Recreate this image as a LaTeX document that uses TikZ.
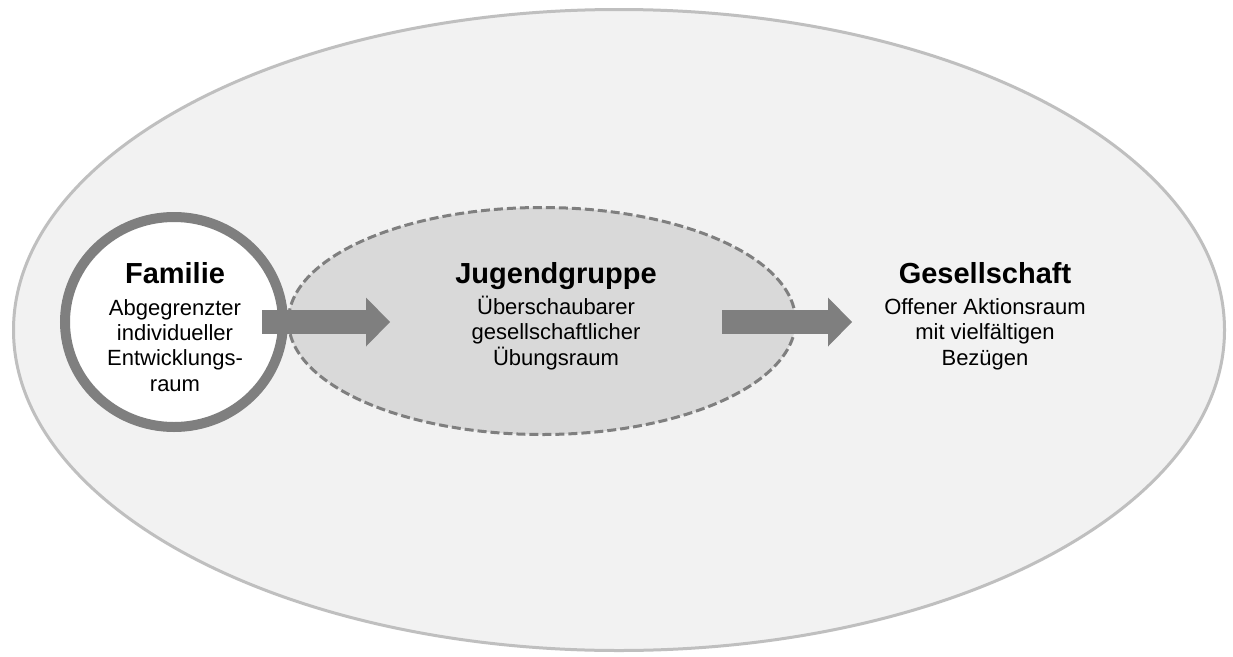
\documentclass[tikz,border=0pt]{standalone}
\usepackage{fontspec}
\setmainfont{Liberation Sans}
\usetikzlibrary{arrows.meta,shapes.geometric}

\definecolor{randgrau}{HTML}{BFBFBF}
\definecolor{flaeche}{HTML}{F2F2F2}
\definecolor{jugendgrau}{HTML}{D9D9D9}
\definecolor{pfeilgrau}{HTML}{7F7F7F}

\begin{document}
\begin{tikzpicture}[x=1pt,y=-1pt,
    raum/.style={ellipse, inner sep=0pt, outer sep=0pt},
    titel/.style={font=\fontsize{29}{33}\selectfont\bfseries, inner sep=0pt, anchor=base},
    beschr/.style={font=\fontsize{22}{25.3}\selectfont, align=center, inner sep=0pt, anchor=base},
    blockpfeil/.style={pfeilgrau, line width=24pt,
        -{Triangle[length=24pt,width=49pt,line width=0pt]}}]

    \useasboundingbox (0,0) rectangle (1233,656);
    \fill[white] (0,0) rectangle (1233,656);

    % Raeume
    \node[raum, draw=randgrau, fill=flaeche, line width=3pt,
          minimum width=1211pt, minimum height=641pt] (gesraum) at (619,330) {};
    \node[raum, draw=pfeilgrau, fill=jugendgrau, line width=3pt, dash pattern=on 9pt off 4pt,
          minimum width=507pt, minimum height=227pt] (jugraum) at (542,321) {};
    \node[raum, draw=pfeilgrau, fill=white, line width=10pt,
          minimum width=218pt, minimum height=210pt] (famraum) at (174,322) {};

    % Pfeile
    \coordinate (p1a) at (262,322);
    \coordinate (p1b) at (390,322);
    \coordinate (p2a) at (722,322);
    \coordinate (p2b) at (852,322);
    \draw[blockpfeil] (p1a) -- (p1b);
    \draw[blockpfeil] (p2a) -- (p2b);

    % Beschriftung (base = letzte Zeile)
    \node[titel] (famtitel) at (175,283) {Familie};
    \node[beschr] (famtext) at (175,391) {Abgegrenzter\\individueller\\Entwicklungs-\\raum};

    \node[titel] (jutitel) at (556,283) {Jugendgruppe};
    \node[beschr] (jutext) at (556,365) {Überschaubarer\\gesellschaftlicher\\Übungsraum};

    \node[titel] (gestitel) at (985,283) {Gesellschaft};
    \node[beschr] (gestext) at (985,365) {Offener Aktionsraum\\mit vielfältigen\\Bezügen};

\end{tikzpicture}
\end{document}
